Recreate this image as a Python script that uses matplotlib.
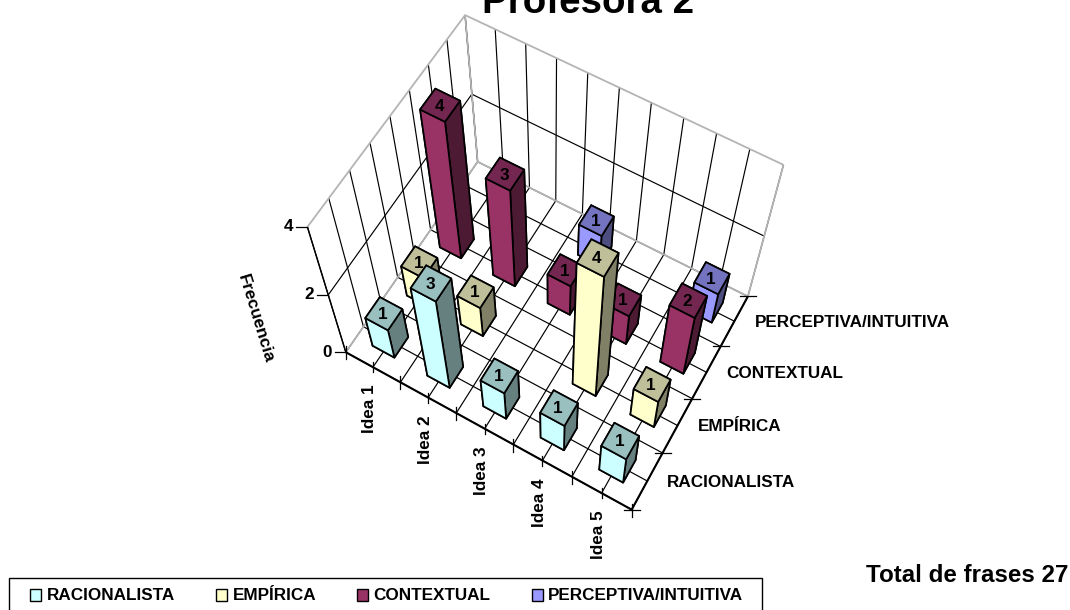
import numpy as np
import matplotlib
matplotlib.use('Agg')
import matplotlib.pyplot as plt
from matplotlib.lines import Line2D
from matplotlib.patches import Patch, Rectangle
from mpl_toolkits.mplot3d import proj3d
from mpl_toolkits.mplot3d.art3d import Line3DCollection

plt.rcParams['font.family'] = ['Liberation Sans', 'DejaVu Sans']
plt.rcParams['font.weight'] = 'bold'

W, H = 1070, 610

ideas = ['Idea 1', 'Idea 2', 'Idea 3', 'Idea 4', 'Idea 5']
series = ['RACIONALISTA', 'EMPÍRICA', 'CONTEXTUAL', 'PERCEPTIVA/INTUITIVA']
racionalista = [1, 3, 1, 1, 1]
empirica = [1, 1, 0, 4, 1]
contextual = [4, 3, 1, 1, 2]
perceptiva = [0, 0, 1, 0, 1]
values = [racionalista, empirica, contextual, perceptiva]
z_ticks = [0, 2, 4]

# front, top and side colours of the bars in each series
front_colors = ['#CCFFFF', '#FFFFCC', '#993366', '#9999FF']
top_colors = ['#99BFBF', '#BFBF99', '#732650', '#7373BF']
side_colors = ['#668080', '#808066', '#4D1A33', '#4D4D80']

n_u, n_v, z_max = len(ideas), len(series), z_ticks[-1]

# box corners (idea, series, height) and where they land on the canvas
world = [(0, 0, 0), (n_u, 0, 0), (0, n_v, 0), (n_u, n_v, 0),
         (0, 0, z_max), (0, n_v, z_max), (n_u, n_v, z_max)]
canvas = [(345, 351), (632, 510), (478, 163), (748, 296),
          (308, 228), (465, 14), (783, 165)]

# solve the camera matrix from those corners
rows = []
for (x, y, z), (px, py) in zip(world, canvas):
    rows.append([x, y, z, 1, 0, 0, 0, 0, -px * x, -px * y, -px * z, -px])
    rows.append([0, 0, 0, 0, x, y, z, 1, -py * x, -py * y, -py * z, -py])
cam = np.linalg.svd(np.array(rows, dtype=float))[2][-1].reshape(3, 4)
cam /= cam[2] @ np.array([n_u / 2, n_v / 2, 0, 1])
M = np.array([cam[0], cam[1], [-1, 1, -1, 0], cam[2]])

fig = plt.figure(figsize=(W / 100, H / 100), dpi=100)
# Axes3D forces a square box, so make it one that overhangs the figure
ax = fig.add_axes([0, (H - W) / 2 / H, 1, W / H], projection='3d', computed_zorder=False)
ax.set_axis_off()
ax.set_xticks([])
ax.set_yticks([])
ax.set_zticks([])
ax.get_proj = lambda: M
ax.viewLim.intervalx = (0, W)
ax.viewLim.intervaly = (H + (W - H) / 2, -(W - H) / 2)


def at(u, v, z=0):
    return proj3d.proj_transform(u, v, z, M)[:2]


def tick(u, v, z, dx0, dy0, dx1, dy1):
    x, y = at(u, v, z)
    ax.add_line(Line2D([x + dx0, x + dx1], [y + dy0, y + dy1], color='black', lw=0.9, zorder=2))


def lines(segments, color, lw, zorder):
    ax.add_collection3d(Line3DCollection(segments, colors=color, linewidths=lw, zorder=zorder),
                        autolim=False)


# walls and floor, with a line every half category
grid = []
for u in np.arange(0, n_u + 0.5, 0.5):
    grid.append([(u, 0, 0), (u, n_v, 0), (u, n_v, z_max)])
for v in np.arange(0, n_v + 0.5, 0.5):
    grid.append([(n_u, v, 0), (0, v, 0), (0, v, z_max)])
for z in z_ticks[1:-1]:
    grid.append([(0, 0, z), (0, n_v, z), (n_u, n_v, z)])
lines(grid, 'black', 0.85, 1)

edges = [[(0, 0, 0), (0, n_v, 0), (n_u, n_v, 0)],
         [(0, 0, z_max), (0, n_v, z_max), (n_u, n_v, z_max)],
         [(0, n_v, 0), (0, n_v, z_max)],
         [(n_u, n_v, 0), (n_u, n_v, z_max)]]
lines(edges, '#B4B4B4', 1.3, 1.5)

lines([[(0, 0, 0), (0, 0, z_max)]], 'black', 1.0, 2)
lines([[(0, 0, 0), (n_u, 0, 0), (n_u, n_v, 0)]], 'black', 1.5, 2)

# axis ticks and labels
for z in z_ticks:
    tick(0, 0, z, -11, 0, 0, 0)
    x, y = at(0, 0, z)
    ax.text2D(x - 14, y, str(z), ha='right', va='center', fontsize=12.3)
for i in range(n_u + 1):
    tick(i, 0, 0, 0, -6, 0, 7)
    if i < n_u:
        tick(i + 0.5, 0, 0, 0, -5, 0, 5)
        x, y = at(i + 0.5, 0)
        ax.text2D(x - 3, y + 42, ideas[i], rotation=90, ha='center', va='center', fontsize=12.3)
for j in range(n_v + 1):
    tick(n_u, j, 0, -8, 0, 8, 0)
    if j < n_v:
        x, y = at(n_u, j + 0.5)
        ax.text2D(x + 20, y + 1, series[j], ha='left', va='center', fontsize=12.3)
ax.text2D(256, 319, 'Frecuencia', rotation=-73, ha='center', va='center', fontsize=12.5)

# bars, from the far corner of the floor towards the viewer
width = 0.4
cells = [(i, j) for j in range(n_v) for i in range(n_u) if values[j][i] > 0]
cells.sort(key=lambda c: c[1] - c[0], reverse=True)
for order, (i, j) in enumerate(cells):
    val = values[j][i]
    u0, v0 = i + 0.5 - width / 2, j + 0.5 - width / 2
    # faces in bar3d order: bottom, top, front, back, left, right
    faces = [front_colors[j], top_colors[j], front_colors[j],
             front_colors[j], side_colors[j], side_colors[j]]
    ax.bar3d(u0, v0, 0, width, width, val, color=faces, shade=False,
             edgecolor='black', linewidth=1.25, zorder=3 + order)
    x, y = at(i + 0.5, j + 0.5, val)
    ax.text2D(x - 1, y + 1, str(val), ha='center', va='center',
              fontsize=12.3, color='black', zorder=3.5 + order)

fig.text(588 / W, 1 - 13 / H, 'Profesora 2', ha='center', va='baseline', fontsize=27.7)
fig.text(866 / W, 1 - 582 / H, 'Total de frases 27', ha='left', va='baseline', fontsize=17.4)

# legend frame runs off the bottom of the figure
fig.add_artist(Rectangle((9 / W, -2 / H), 753 / W, 34 / H, transform=fig.transFigure,
                         facecolor='white', edgecolor='black', linewidth=1.0))
handles = [Patch(facecolor=c, edgecolor='black', linewidth=1.0) for c in front_colors]
leg = fig.legend(handles, series, ncols=4, loc='center left', bbox_to_anchor=(30 / W, 1 - 596 / H),
                 borderaxespad=0, borderpad=0, fontsize=12.3, frameon=False,
                 handlelength=0.65, handleheight=0.7, handletextpad=0.32, columnspacing=2.4)

fig.savefig('out.png', dpi=100)
